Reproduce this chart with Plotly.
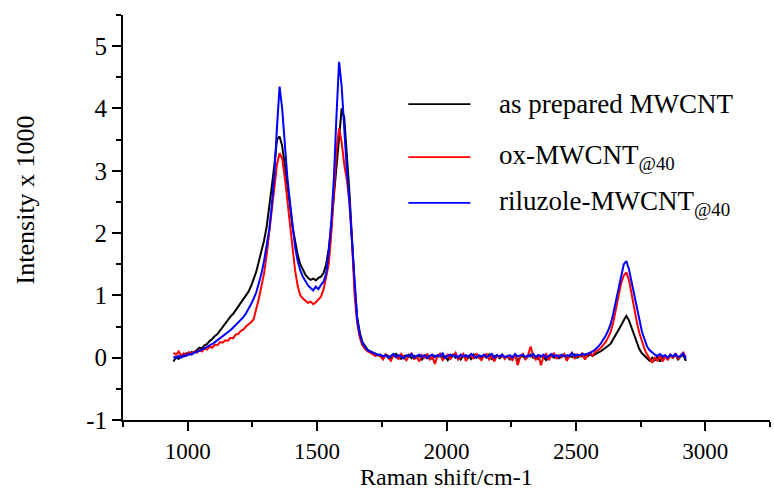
import plotly.graph_objects as go

# Raman shift grid (cm-1)
shift = [
    945, 955, 965, 975, 985, 995, 1005, 1015, 1025, 1035,
    1045, 1055, 1065, 1075, 1085, 1095, 1105, 1115, 1125, 1135,
    1145, 1155, 1165, 1175, 1185, 1195, 1205, 1215, 1225, 1235,
    1245, 1255, 1265, 1275, 1285, 1295, 1305, 1315, 1325, 1335,
    1345, 1355, 1365, 1375, 1385, 1395, 1405, 1415, 1425, 1435,
    1445, 1455, 1465, 1475, 1485, 1495, 1505, 1515, 1525, 1535,
    1545, 1555, 1565, 1575, 1585, 1595, 1605, 1615, 1625, 1635,
    1645, 1655, 1665, 1675, 1685, 1695, 1705, 1715, 1725, 1735,
    1745, 1755, 1765, 1775, 1785, 1795, 1805, 1815, 1825, 1835,
    1845, 1855, 1865, 1875, 1885, 1895, 1905, 1915, 1925, 1935,
    1945, 1955, 1965, 1975, 1985, 1995, 2005, 2015, 2025, 2035,
    2045, 2055, 2065, 2075, 2085, 2095, 2105, 2115, 2125, 2135,
    2145, 2155, 2165, 2175, 2185, 2195, 2205, 2215, 2225, 2235,
    2245, 2255, 2265, 2275, 2285, 2295, 2305, 2315, 2325, 2335,
    2345, 2355, 2365, 2375, 2385, 2395, 2405, 2415, 2425, 2435,
    2445, 2455, 2465, 2475, 2485, 2495, 2505, 2515, 2525, 2535,
    2545, 2555, 2565, 2575, 2585, 2595, 2605, 2615, 2625, 2635,
    2645, 2655, 2665, 2675, 2685, 2695, 2705, 2715, 2725, 2735,
    2745, 2755, 2765, 2775, 2785, 2795, 2805, 2815, 2825, 2835,
    2845, 2855, 2865, 2875, 2885, 2895, 2905, 2915, 2925,
]

# Intensity x 1000 — as prepared MWCNT
as_prepared = [
    -0.06, 0.01, -0.02, 0.04, 0.02, 0.07, 0.05, 0.09, 0.08, 0.12,
    0.16, 0.15, 0.20, 0.22, 0.27, 0.30, 0.35, 0.38, 0.44, 0.50,
    0.56, 0.60, 0.66, 0.70, 0.76, 0.82, 0.86, 0.93, 0.99, 1.06,
    1.15, 1.26, 1.38, 1.55, 1.70, 1.88, 2.10, 2.40, 2.75, 3.10,
    3.50, 3.55, 3.40, 3.10, 2.80, 2.45, 2.10, 1.85, 1.65, 1.50,
    1.40, 1.33, 1.28, 1.25, 1.27, 1.24, 1.28, 1.30, 1.36, 1.50,
    1.75, 2.10, 2.60, 3.10, 3.60, 4.00, 3.85, 3.30, 2.65, 1.90,
    1.15, 0.65, 0.40, 0.25, 0.18, 0.13, 0.10, 0.08, 0.06, 0.05,
    0.04, 0.01, 0.05, 0.02, 0.00, 0.03, 0.06, 0.01, -0.02, 0.03,
    0.02, 0.05, -0.01, 0.03, 0.00, 0.04, -0.03, 0.02, 0.05, 0.01,
    -0.02, 0.03, 0.01, 0.06, 0.00, 0.02, -0.04, 0.03, 0.05, 0.00,
    0.02, -0.03, 0.04, 0.01, 0.03, -0.02, 0.05, 0.00, 0.02, -0.01,
    0.03, 0.00, 0.05, -0.02, 0.02, 0.04, -0.01, 0.03, 0.00, 0.02,
    -0.03, 0.02, 0.04, -0.05, 0.01, 0.03, -0.02, 0.02, 0.05, 0.00,
    0.02, -0.02, 0.03, 0.01, -0.04, 0.02, 0.04, 0.00, 0.03, -0.01,
    0.02, 0.04, -0.02, 0.03, 0.01, 0.05, 0.00, 0.03, 0.02, 0.04,
    0.02, 0.05, 0.03, 0.06, 0.08, 0.10, 0.13, 0.15, 0.19, 0.23,
    0.30, 0.36, 0.44, 0.52, 0.60, 0.67, 0.60, 0.48, 0.38, 0.27,
    0.14, 0.07, 0.03, -0.02, -0.05, 0.00, -0.04, 0.02, -0.06, 0.01,
    0.03, -0.02, 0.04, 0.00, 0.05, -0.03, 0.02, 0.04, -0.05,
]

# Intensity x 1000 — ox-MWCNT@40
ox_mwcnt = [
    0.08, 0.05, 0.10, 0.03, 0.07, 0.04, 0.09, 0.06, 0.10, 0.08,
    0.12, 0.10, 0.15, 0.13, 0.18, 0.16, 0.21, 0.20, 0.25, 0.24,
    0.28, 0.27, 0.32, 0.31, 0.37, 0.38, 0.43, 0.45, 0.50, 0.53,
    0.57, 0.62, 0.78, 0.95, 1.15, 1.35, 1.65, 2.00, 2.30, 2.75,
    3.10, 3.28, 3.20, 2.90, 2.50, 2.20, 1.80, 1.40, 1.15, 1.00,
    0.95, 0.92, 0.88, 0.90, 0.86, 0.89, 0.93, 0.98, 1.10, 1.30,
    1.50, 2.00, 2.70, 3.35, 3.68, 3.45, 3.10, 2.85, 2.50, 1.85,
    1.00, 0.55, 0.32, 0.20, 0.14, 0.10, 0.08, 0.05, 0.03, 0.04,
    0.02, -0.03, 0.05, 0.00, -0.05, 0.04, 0.01, -0.02, 0.06, 0.00,
    -0.04, 0.03, 0.07, -0.02, 0.01, -0.06, 0.04, 0.00, 0.05, -0.03,
    0.02, -0.10, 0.03, 0.06, -0.04, 0.01, 0.05, -0.02, 0.03, 0.08,
    -0.03, 0.02, 0.06, -0.05, 0.01, 0.04, -0.02, 0.07, 0.00, -0.04,
    0.03, 0.06, -0.03, 0.02, -0.06, 0.04, 0.01, 0.05, -0.02, 0.03,
    0.00, -0.04, 0.05, -0.12, 0.02, 0.06, -0.02, 0.04, 0.18, 0.03,
    -0.03, 0.05, -0.12, 0.02, 0.06, -0.04, 0.03, 0.07, -0.02, 0.04,
    0.01, 0.06, -0.05, 0.03, 0.08, -0.02, 0.05, 0.02, 0.07, -0.03,
    0.04, 0.08, 0.03, 0.10, 0.12, 0.15, 0.20, 0.25, 0.33, 0.42,
    0.58, 0.78, 1.00, 1.20, 1.32, 1.37, 1.25, 1.02, 0.80, 0.58,
    0.40, 0.25, 0.14, 0.05, -0.02, -0.08, 0.00, -0.05, 0.03, -0.06,
    0.02, -0.04, 0.05, 0.00, 0.07, -0.02, 0.04, 0.08, 0.01,
]

# Intensity x 1000 — riluzole-MWCNT@40
riluzole_mwcnt = [
    0.02, -0.01, 0.03, 0.00, 0.04, 0.03, 0.06, 0.05, 0.08, 0.09,
    0.11, 0.13, 0.15, 0.17, 0.20, 0.22, 0.25, 0.28, 0.31, 0.35,
    0.37, 0.40, 0.44, 0.48, 0.52, 0.56, 0.60, 0.65, 0.71, 0.78,
    0.86, 0.95, 1.05, 1.20, 1.35, 1.55, 1.78, 2.05, 2.45, 2.95,
    3.70, 4.35, 4.00, 3.40, 2.90, 2.50, 2.10, 1.78, 1.55, 1.40,
    1.30, 1.22, 1.16, 1.12, 1.08, 1.14, 1.10, 1.17, 1.22, 1.35,
    1.70, 2.20, 2.90, 3.90, 4.75, 4.35, 3.60, 3.00, 2.50, 1.80,
    1.10, 0.60, 0.38, 0.24, 0.17, 0.12, 0.10, 0.08, 0.06, 0.04,
    0.05, 0.02, 0.04, 0.00, 0.03, 0.06, 0.01, 0.04, 0.02, -0.01,
    0.04, 0.02, 0.06, 0.00, 0.03, 0.05, 0.01, 0.04, -0.01, 0.03,
    0.05, 0.01, 0.04, 0.02, 0.07, 0.00, 0.03, 0.05, 0.02, 0.04,
    0.00, 0.05, 0.02, 0.04, 0.01, 0.06, 0.03, 0.00, 0.04, 0.02,
    0.05, 0.01, 0.03, 0.06, 0.00, 0.04, 0.02, 0.05, 0.01, 0.03,
    0.04, 0.00, 0.06, 0.02, 0.03, 0.05, 0.01, 0.04, 0.02, 0.06,
    0.01, 0.04, 0.02, 0.05, 0.00, 0.03, 0.06, 0.02, 0.04, 0.01,
    0.05, 0.02, 0.04, 0.03, 0.07, 0.02, 0.05, 0.04, 0.06, 0.05,
    0.06, 0.08, 0.10, 0.13, 0.17, 0.22, 0.28, 0.35, 0.44, 0.55,
    0.72, 0.92, 1.15, 1.35, 1.50, 1.55, 1.42, 1.22, 1.00, 0.80,
    0.62, 0.42, 0.28, 0.18, 0.12, 0.08, 0.05, 0.03, 0.06, 0.02,
    0.04, 0.00, 0.05, 0.02, 0.06, 0.01, 0.03, 0.07, -0.02,
]

series_names = ["as prepared MWCNT", "ox-MWCNT<sub>@40</sub>", "riluzole-MWCNT<sub>@40</sub>"]
series_values = [as_prepared, ox_mwcnt, riluzole_mwcnt]
series_colors = ["#000000", "#ff0000", "#0000ff"]

x_ticks = [1000, 1500, 2000, 2500, 3000]
y_ticks = [-1, 0, 1, 2, 3, 4, 5]
y_tick_text = ["-1", "0", "1", "2", "3", "4", "5"]

FONT = "Liberation Serif"

fig = go.Figure()
for name, vals, col in zip(series_names, series_values, series_colors):
    fig.add_trace(go.Scatter(x=shift, y=vals, mode="lines", name=name,
                             line=dict(color=col, width=2), showlegend=False))

# manual legend (line sample + label)
leg_y = [0.780, 0.649, 0.536]
for name, col, yy in zip(series_names, series_colors, leg_y):
    fig.add_shape(type="line", xref="paper", yref="paper", x0=0.441, x1=0.537,
                  y0=yy, y1=yy, line=dict(color=col, width=1.6))
    fig.add_annotation(xref="paper", yref="paper", x=0.578, y=yy, text=name,
                       showarrow=False, xanchor="left", yanchor="middle",
                       font=dict(family=FONT, size=27, color="black"))

fig.add_annotation(xref="paper", yref="paper", x=-0.151, y=0.543,
                   text="Intensity x 1000", textangle=-90, showarrow=False,
                   xanchor="center", yanchor="middle",
                   font=dict(family=FONT, size=26, color="black"))
fig.add_annotation(xref="paper", yref="paper", x=0.5, y=-0.178,
                   text="Raman shift/cm-1", showarrow=False,
                   xanchor="center", yanchor="bottom",
                   font=dict(family=FONT, size=24, color="black"))

fig.update_layout(
    width=774, height=494,
    margin=dict(l=123, r=4, t=15, b=74),
    paper_bgcolor="white", plot_bgcolor="white",
    font=dict(family=FONT, size=23, color="black"),
)
fig.update_xaxes(range=[750, 3250], tickvals=x_ticks, showgrid=False, zeroline=False,
                 showline=True, linecolor="black", linewidth=2,
                 ticks="outside", ticklen=9, tickwidth=2, tickcolor="black",
                 minor=dict(dtick=250, tick0=750, ticks="outside", ticklen=5, tickwidth=2, tickcolor="black"),
                 tickfont=dict(family=FONT, size=23, color="black"))
fig.update_yaxes(range=[-1, 5.5], tickvals=y_ticks, ticktext=y_tick_text,
                 showgrid=False, zeroline=False,
                 showline=True, linecolor="black", linewidth=2,
                 ticks="outside", ticklen=9, tickwidth=2, tickcolor="black",
                 minor=dict(dtick=0.5, tick0=-1, ticks="outside", ticklen=5, tickwidth=2, tickcolor="black"),
                 tickfont=dict(family=FONT, size=25, color="black"))

fig.write_html("out.html")
